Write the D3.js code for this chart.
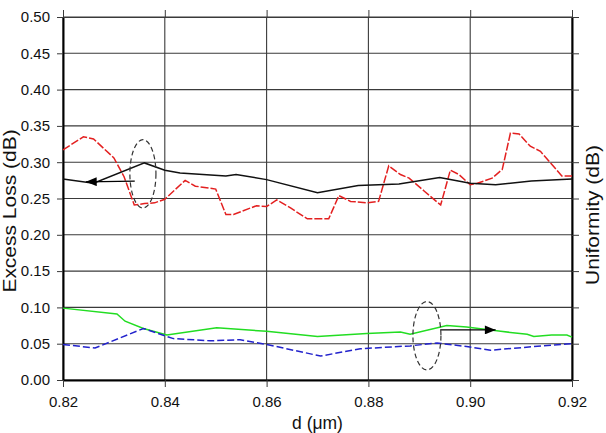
<!DOCTYPE html>
<html lang="en">
<head>
<meta charset="UTF-8">
<title>Excess Loss / Uniformity</title>
<script src="https://d3js.org/d3.v7.min.js"></script>
<style>
  body { margin: 0; background: #fff; }
  text { font-family: "Liberation Sans", Arial, sans-serif; }
</style>
</head>
<body>
<div id="chart"></div>
<script>
// excess loss (black, solid) and its dashed red partner
const blackX = [0.820, 0.826, 0.836, 0.840, 0.843, 0.852, 0.854, 0.860, 0.870, 0.878, 0.886, 0.894, 0.900, 0.905, 0.912, 0.920];
const blackY = [0.277, 0.271, 0.299, 0.289, 0.285, 0.281, 0.283, 0.276, 0.258, 0.268, 0.270, 0.279, 0.271, 0.269, 0.274, 0.277];

const redX = [0.820, 0.824, 0.826, 0.830, 0.832, 0.834, 0.836, 0.838, 0.840, 0.844, 0.846, 0.850, 0.852, 0.8535, 0.858, 0.860, 0.862, 0.8647, 0.868, 0.8722, 0.8742, 0.8765, 0.8797, 0.882, 0.884, 0.8863, 0.888, 0.891, 0.8942, 0.8961, 0.8978, 0.900, 0.9014, 0.9043, 0.9063, 0.9079, 0.9096, 0.9118, 0.9138, 0.9164, 0.918, 0.920];
const redY = [0.317, 0.335, 0.332, 0.306, 0.280, 0.241, 0.243, 0.244, 0.249, 0.275, 0.267, 0.263, 0.228, 0.228, 0.240, 0.239, 0.248, 0.237, 0.222, 0.222, 0.254, 0.246, 0.244, 0.246, 0.295, 0.283, 0.278, 0.260, 0.241, 0.289, 0.283, 0.269, 0.271, 0.278, 0.290, 0.340, 0.339, 0.322, 0.315, 0.294, 0.281, 0.281];

// uniformity (green, solid) and dashed blue
const greenX = [0.820, 0.8306, 0.8322, 0.8358, 0.8404, 0.8502, 0.860, 0.870, 0.8797, 0.8863, 0.8882, 0.8954, 0.8993, 0.906, 0.9112, 0.9125, 0.916, 0.919, 0.920];
const greenY = [0.099, 0.091, 0.081, 0.071, 0.062, 0.072, 0.067, 0.060, 0.064, 0.066, 0.063, 0.075, 0.073, 0.067, 0.063, 0.060, 0.062, 0.062, 0.059];

const blueX = [0.820, 0.8263, 0.8358, 0.8404, 0.8417, 0.8489, 0.8548, 0.860, 0.8706, 0.8784, 0.8882, 0.8935, 0.8993, 0.904, 0.9125, 0.920];
const blueY = [0.049, 0.044, 0.071, 0.060, 0.057, 0.054, 0.0555, 0.049, 0.033, 0.043, 0.047, 0.051, 0.046, 0.041, 0.046, 0.050];

const xTicks = [0.82, 0.84, 0.86, 0.88, 0.90, 0.92];
const yTicks = [0, 0.05, 0.10, 0.15, 0.20, 0.25, 0.30, 0.35, 0.40, 0.45, 0.50];

// annotations: ellipse centre / radii and arrow start/end (data units)
const ellipses = [
  { cx: 0.8357, cy: 0.284, rx: 0.00256, ry: 0.047 },
  { cx: 0.8915, cy: 0.061, rx: 0.00275, ry: 0.047 }
];
const arrows = [
  { x0: 0.8341, y0: 0.274, x1: 0.8245, y1: 0.273 },
  { x0: 0.8941, y0: 0.069, x1: 0.9050, y1: 0.069 }
];

const width = 606, height = 433;
const margin = { top: 17, right: 34, bottom: 53, left: 63 };
const innerW = width - margin.left - margin.right;
const innerH = height - margin.top - margin.bottom;

const svg = d3.select("#chart").append("svg")
  .attr("width", width)
  .attr("height", height);

svg.append("defs").append("marker")
  .attr("id", "head")
  .attr("viewBox", "0 0 12 10")
  .attr("refX", 12).attr("refY", 5)
  .attr("markerWidth", 12).attr("markerHeight", 9)
  .attr("markerUnits", "userSpaceOnUse")
  .attr("orient", "auto")
  .append("path")
  .attr("d", "M0,0L12,5L0,10Z")
  .attr("fill", "#000");

const g = svg.append("g").attr("transform", `translate(${margin.left},${margin.top})`);

const x = d3.scaleLinear().domain([0.82, 0.92]).range([0, innerW]);
const y = d3.scaleLinear().domain([0, 0.5]).range([innerH, 0]);

// grid
g.append("g").selectAll("line").data(xTicks).join("line")
  .attr("x1", d => x(d)).attr("x2", d => x(d))
  .attr("y1", 0).attr("y2", innerH)
  .attr("stroke", "#3a3a3a").attr("stroke-width", 1.1);
g.append("g").selectAll("line").data(yTicks).join("line")
  .attr("x1", 0).attr("x2", innerW)
  .attr("y1", d => y(d)).attr("y2", d => y(d))
  .attr("stroke", "#3a3a3a").attr("stroke-width", 1.1);

// axes
const fmt = d3.format(".2f");
const axLeft = g.append("g")
  .call(d3.axisLeft(y).tickValues(yTicks).tickFormat(fmt).tickSize(6).tickSizeOuter(0).tickPadding(7));
const axBottom = g.append("g").attr("transform", `translate(0,${innerH})`)
  .call(d3.axisBottom(x).tickValues(xTicks).tickFormat(fmt).tickSize(7).tickSizeOuter(0).tickPadding(9));
const axRight = g.append("g").attr("transform", `translate(${innerW},0)`)
  .call(d3.axisRight(y).tickValues(yTicks).tickFormat("").tickSize(7).tickSizeOuter(0));
const axTop = g.append("g")
  .call(d3.axisTop(x).tickValues(xTicks).tickFormat("").tickSize(7).tickSizeOuter(0));

[axLeft, axBottom, axRight, axTop].forEach(a => {
  a.selectAll("text").attr("font-size", 15).attr("fill", "#111");
  a.selectAll(".tick line").attr("stroke", "#3a3a3a");
  a.select(".domain").attr("stroke", "#000");
});
axLeft.select(".domain").attr("stroke-width", 2);
axBottom.select(".domain").attr("stroke-width", 2);
axRight.select(".domain").attr("stroke-width", 2);
axTop.select(".domain").attr("stroke", "#3a3a3a");

// series
const line = d3.line().x(d => x(d[0])).y(d => y(d[1]));
const series = [
  { xs: greenX, ys: greenY, color: "#22dd22", dash: null, w: 1.5 },
  { xs: blueX, ys: blueY, color: "#2222cc", dash: "7,3", w: 1.5 },
  { xs: redX, ys: redY, color: "#e32020", dash: "8,2", w: 1.5 },
  { xs: blackX, ys: blackY, color: "#111", dash: null, w: 1.5 }
];
series.forEach(s => {
  g.append("path")
    .datum(s.xs.map((v, i) => [v, s.ys[i]]))
    .attr("d", line)
    .attr("fill", "none")
    .attr("stroke", s.color)
    .attr("stroke-width", s.w)
    .attr("stroke-dasharray", s.dash);
});

// ellipses + arrows
g.append("g").selectAll("ellipse").data(ellipses).join("ellipse")
  .attr("cx", d => x(d.cx)).attr("cy", d => y(d.cy))
  .attr("rx", d => x(d.cx + d.rx) - x(d.cx))
  .attr("ry", d => y(d.cy) - y(d.cy + d.ry))
  .attr("fill", "none").attr("stroke", "#333")
  .attr("stroke-width", 1.2).attr("stroke-dasharray", "5,3");

g.append("g").selectAll("line").data(arrows).join("line")
  .attr("x1", d => x(d.x0)).attr("y1", d => y(d.y0))
  .attr("x2", d => x(d.x1)).attr("y2", d => y(d.y1))
  .attr("stroke", "#000").attr("stroke-width", 1.3)
  .attr("marker-end", "url(#head)");

// titles (the source glyphs look stretched along the text direction)
svg.append("text")
  .attr("transform", "translate(16,211) rotate(-90) scale(1.2,1)")
  .attr("text-anchor", "middle")
  .attr("font-size", 17.5).attr("fill", "#111")
  .text("Excess Loss (dB)");
svg.append("text")
  .attr("transform", "translate(599,215) rotate(-90) scale(1.2,1)")
  .attr("text-anchor", "middle")
  .attr("font-size", 17.5).attr("fill", "#111")
  .text("Uniformity (dB)");
svg.append("text")
  .attr("x", margin.left + innerW / 2)
  .attr("y", 429)
  .attr("text-anchor", "middle")
  .attr("font-size", 17.5).attr("fill", "#111")
  .text("d (\u03bcm)");
</script>
</body>
</html>
